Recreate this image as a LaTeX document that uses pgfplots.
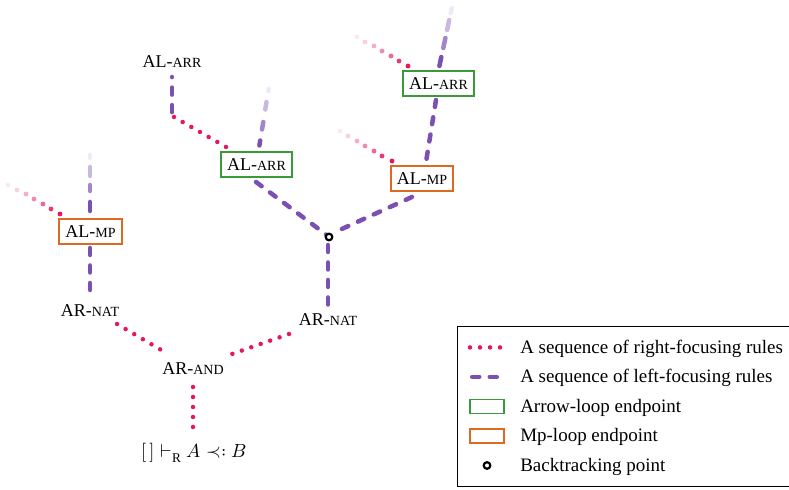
\documentclass[border=0pt]{standalone}
\usepackage{fontspec}
\usepackage{unicode-math}
\setmainfont{Liberation Serif}
\usepackage{pgfplots}
\pgfplotsset{compat=1.18}

\definecolor{rpink}{HTML}{E5175F}
\definecolor{lpurp}{HTML}{7B50B0}
\definecolor{agreen}{HTML}{3A9A3A}
\definecolor{morange}{HTML}{DD6A22}

% fake small caps (Liberation Serif has none)
\newcommand\smc[1]{{\fontsize{14bp}{16bp}\selectfont #1}}

\tikzset{
  rdots/.style={rpink, line width=4.5bp, line cap=round, dash pattern=on 0bp off 10bp},
  ldash/.style={lpurp, line width=4.5bp, line cap=round, dash pattern=on 7bp off 10.5bp},
  fdash/.style={line width=4.5bp, line cap=round},
  lgbox/.style={draw=none, fill=none},
}

\begin{document}
\begin{tikzpicture}[font=\fontsize{18bp}{21bp}\selectfont]
\begin{axis}[
    width=789bp, height=490bp, scale only axis,
    xmin=0, xmax=789, ymin=0, ymax=490,
    y dir=reverse,
    hide axis, clip=false,
    legend cell align=left,
    legend image code/.code={\path[lgbox] (0bp,0bp) -- (40bp,0bp); \draw[#1] (7bp,0bp) -- (40bp,0bp);},
    legend style={
        at={(axis cs:456.5,326)}, anchor=north west,
        draw=black, line width=1bp, fill=white,
        font=\fontsize{19bp}{22bp}\selectfont,
        nodes={inner sep=0pt},
        inner xsep=6bp, inner ysep=13.5bp,
        row sep=14.5bp,
        /tikz/every odd column/.append style={column sep=14bp},
    },
]

% legend entries
\addlegendimage{rdots}
\addlegendimage{legend image code/.code={\path[lgbox] (0bp,0bp) -- (40bp,0bp); \draw[ldash] (9.25bp,0bp) -- (41bp,0bp);}}
\addlegendimage{legend image code/.code={\path[lgbox] (0bp,0bp) -- (40bp,0bp); \draw[agreen, line width=1.2bp] (7bp,-7bp) rectangle (41bp,7bp);}}
\addlegendimage{legend image code/.code={\path[lgbox] (0bp,0bp) -- (40bp,0bp); \draw[morange, line width=1.2bp] (7bp,-7bp) rectangle (41bp,7bp);}}
\addlegendimage{legend image code/.code={\path[lgbox] (0bp,0bp) -- (40bp,0bp); \draw[black, line width=2.2bp, fill=white] (24bp,0bp) circle (3.3bp);}}
\legend{A sequence of right-focusing rules, A sequence of left-focusing rules,
        Arrow-loop endpoint, Mp-loop endpoint, Backtracking point}

% right-focusing (dotted) sequences
\addplot[rdots] coordinates {(174,117) (226,147)};
\addplot[rdots] coordinates {(117,324) (168,354)};
\addplot[rdots] coordinates {(289,334) (232,354)};
\addplot[rdots] coordinates {(193,387) (193,436)};

% faded dotted branches
\pgfplotsset{fade/.style={scatter, only marks, mark=*, mark size=2.2bp,
    point meta=explicit,
    colormap={pf}{color=(white) color=(rpink)},
    point meta min=0, point meta max=1,
    scatter/use mapped color={draw=mapped color, fill=mapped color}}}
\addplot[fade] table[meta=m] {
x y m
60 214 1
51 209 0.85
43 204 0.65
34 199 0.5
26 194 0.35
17 190 0.2
8 185 0.1
};
\addplot[fade] table[meta=m] {
x y m
408 66 1
399 61 0.85
391 56 0.65
382 51 0.5
374 46 0.35
365 42 0.2
357 37 0.1
};
\addplot[fade] table[meta=m] {
x y m
392 161 1
382 156 0.85
374 151 0.65
365 146 0.5
357 141 0.35
348 136 0.2
340 131 0.1
};

% left-focusing (dashed) sequences
\addplot[ldash, dash phase=6.9bp] coordinates {(172,77) (172,115)};
\addplot[ldash] coordinates {(256,182) (328,236)};
\addplot[ldash] coordinates {(436,100) (426,162)};
\addplot[ldash] coordinates {(412,197) (333,233)};
\addplot[ldash] coordinates {(90,248) (90,299)};
\addplot[ldash] coordinates {(328,245) (328,307)};

% faded dashed branches
\addplot[fdash, lpurp] coordinates {(90,211) (90,202)};
\addplot[fdash, lpurp!70!white] coordinates {(90,191) (90,185)};
\addplot[fdash, lpurp!40!white] coordinates {(90,176) (90,167)};
\addplot[fdash, lpurp!12!white] coordinates {(90,158) (90,155)};

\addplot[fdash, lpurp] coordinates {(259.4,145.5) (260.2,140.5)};
\addplot[fdash, lpurp!70!white] coordinates {(262.0,129.5) (263.3,122)};
\addplot[fdash, lpurp!40!white] coordinates {(265.3,109.5) (266.5,102)};
\addplot[fdash, lpurp!12!white] coordinates {(268.3,91) (268.7,89)};

\addplot[fdash, lpurp] coordinates {(439.4,66) (441.3,57)};
\addplot[fdash, lpurp!70!white] coordinates {(443.3,48) (445.4,38)};
\addplot[fdash, lpurp!40!white] coordinates {(447.1,30) (449.2,20)};
\addplot[fdash, lpurp!12!white] coordinates {(450.7,13) (451.8,8)};

% backtracking point
\addplot[only marks, mark=*, mark size=3.3bp, mark options={draw=black, fill=white, line width=2.2bp}]
    coordinates {(329,237)};

% rule labels
\node at (axis cs:172,62) {AL-\smc{ARR}};
\node at (axis cs:90,311) {AR-\smc{NAT}};
\node at (axis cs:328,320) {AR-\smc{NAT}};
\node at (axis cs:193,369) {AR-\smc{AND}};
\node at (axis cs:194,453) {\fontsize{19bp}{22bp}\selectfont$[\,]\vdash_{\mathrm{R}} A \prec: B$};

\node[draw=agreen, line width=1.2bp, fill=white, minimum width=71bp, minimum height=25bp, inner sep=0pt]
    at (axis cs:256.5,164.5) {AL-\smc{ARR}};
\node[draw=agreen, line width=1.2bp, fill=white, minimum width=71bp, minimum height=25bp, inner sep=0pt]
    at (axis cs:438.5,83.5) {AL-\smc{ARR}};
\node[draw=morange, line width=1.2bp, fill=white, minimum width=63bp, minimum height=25bp, inner sep=0pt]
    at (axis cs:90.5,231.5) {AL-\smc{MP}};
\node[draw=morange, line width=1.2bp, fill=white, minimum width=62bp, minimum height=25bp, inner sep=0pt]
    at (axis cs:422,178.5) {AL-\smc{MP}};

\coordinate (tl) at (axis cs:0,0);
\coordinate (br) at (axis cs:789,490);
\end{axis}
\pgfresetboundingbox
\path (tl) rectangle (br);
\end{tikzpicture}
\end{document}
